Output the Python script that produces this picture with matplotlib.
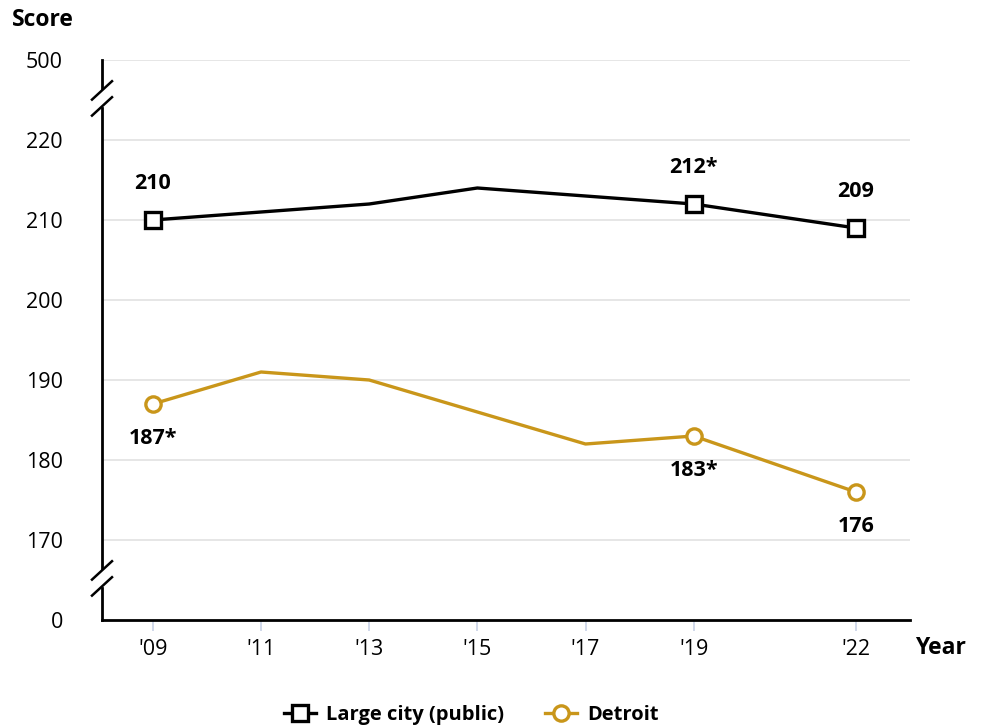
import matplotlib.pyplot as plt

plt.rcParams['font.family'] = ['Open Sans', 'DejaVu Sans']

years = [2009, 2011, 2013, 2015, 2017, 2019, 2022]
year_labels = ["'09", "'11", "'13", "'15", "'17", "'19", "'22"]
large_city = [210, 211, 212, 214, 213, 212, 209]
detroit = [187, 191, 190, 186, 182, 183, 176]
marked_years = [2009, 2019, 2022]
large_city_labels = ['210', '212*', '209']
detroit_labels = ['187*', '183*', '176']

# broken axis: 500 drawn at 230, 0 drawn at 160
ytick_pos = [160, 170, 180, 190, 200, 210, 220, 230]
ytick_labels = ['0', '170', '180', '190', '200', '210', '220', '500']

black = '#000000'
gold = '#C9961A'

fig = plt.figure(figsize=(9.92, 7.28), dpi=100)
ax = fig.add_axes([102 / 992, 1 - 620 / 728, 808 / 992, 560 / 728])
ax.set_xlim(2008.06, 2023.0)
ax.set_ylim(160, 230)

for y in ytick_pos[1:]:
    ax.axhline(y, color='#e2e2e2', lw=1.2, zorder=0)

ax.plot(years, large_city, color=black, lw=2.4, zorder=3)
ax.plot(years, detroit, color=gold, lw=2.4, zorder=3)

idx = [years.index(y) for y in marked_years]
ax.plot(marked_years, [large_city[i] for i in idx], ls='none', marker='s', ms=12,
        mfc='white', mec=black, mew=2.4, zorder=4)
ax.plot(marked_years, [detroit[i] for i in idx], ls='none', marker='o', ms=11,
        mfc='white', mec=gold, mew=2.4, zorder=4)

for x, i, lab in zip(marked_years, idx, large_city_labels):
    ax.annotate(lab, (x, large_city[i]), xytext=(0, 26), textcoords='offset points',
                ha='center', va='center', fontsize=15.5, fontweight='bold')
for x, i, lab in zip(marked_years, idx, detroit_labels):
    ax.annotate(lab, (x, detroit[i]), xytext=(0, -25), textcoords='offset points',
                ha='center', va='center', fontsize=15.5, fontweight='bold')

ax.set_xticks(years)
ax.set_xticklabels(year_labels, fontsize=15.5)
ax.set_yticks(ytick_pos)
ax.set_yticklabels(ytick_labels, fontsize=15.5)
ax.tick_params(axis='x', length=8, width=1.2, color='#c8d2e6', pad=6)
ax.tick_params(axis='y', length=0, pad=28)

for s in ['top', 'right', 'left']:
    ax.spines[s].set_visible(False)
ax.spines['bottom'].set_linewidth(2)

# left spine with two breaks
tr = ax.get_yaxis_transform()
segs = [(230, 226.5), (224.0, 166.5), (164.0, 160)]
for a, b in segs:
    ax.plot([0, 0], [a, b], color=black, lw=2, transform=tr, clip_on=False, zorder=5)
dx = 10 / 808
for yc in [226.2, 224.2, 166.2, 164.2]:
    ax.plot([-dx, dx], [yc - 1.15, yc + 1.15], color=black, lw=1.8,
            transform=tr, clip_on=False, zorder=5)

fig.text(12 / 992, 1 - 20 / 728, 'Score', fontsize=16.5, fontweight='bold', va='center')
fig.text(915 / 992, 1 - 648 / 728, 'Year', fontsize=16.5, fontweight='bold', va='center')

ax.plot([], [], color=black, lw=2.4, marker='s', ms=12, mfc='white', mew=2.4,
        label='Large city (public)')
ax.plot([], [], color=gold, lw=2.4, marker='o', ms=11, mfc='white', mew=2.4,
        label='Detroit')
handles, labels = ax.get_legend_handles_labels()
leg = fig.legend(handles[-2:], labels[-2:], loc='center', bbox_to_anchor=(0.475, 1 - 715 / 728),
                 ncol=2, frameon=False, handlelength=1.6, columnspacing=2.0,
                 handletextpad=0.5, prop={'size': 14.5, 'weight': 'bold'})

fig.savefig('out.png', dpi=100)
